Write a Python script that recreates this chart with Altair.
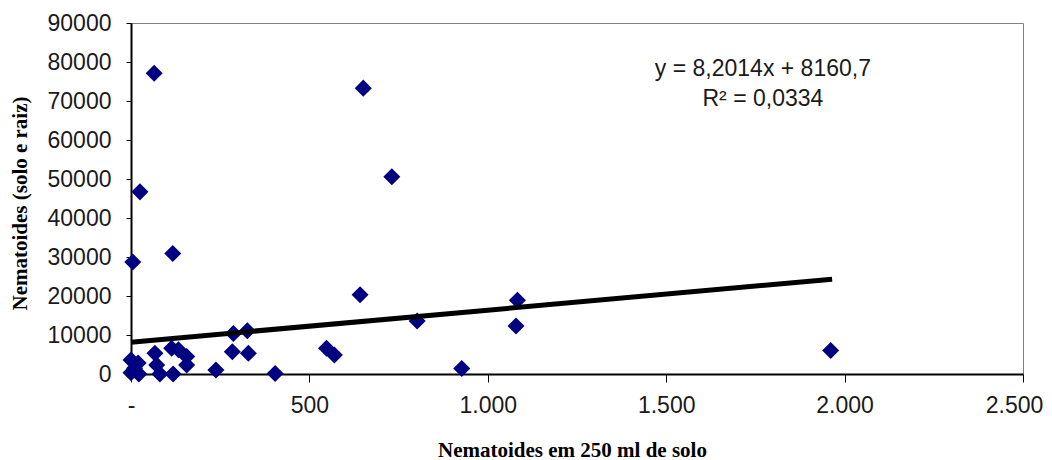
import altair as alt
import pandas as pd

# Scatter data
x_vals = [65, 651, 731, 25, 5, 117, 642, 1083, 802, 1079, 287, 326, 284, 329,
          548, 570, 1961, 927, 404, 238, 67, 72, 81, 114, 133, 118, 156, 156,
          0, 0, 20, 22, 10]
y_vals = [77100, 73300, 50600, 46700, 28700, 30900, 20300, 18900, 13600, 12300,
          10400, 11100, 5700, 5300, 6600, 4900, 6000, 1400, 100, 1000, 5300, 2300,
          0, 6600, 6200, 0, 4500, 2300, 3600, 300, 2800, 0, 1500]

# Trend line endpoints
trend_x = [0, 1965]
trend_y = [8160.7, 24300]

# Annotation
eq_text = ["y = 8,2014x  +  8160,7", "R² = 0,0334"]
eq_x = [1771, 1771]
eq_y = [78200, 70500]

x_ticks = [0, 500, 1000, 1500, 2000, 2500]
y_ticks = [0, 10000, 20000, 30000, 40000, 50000, 60000, 70000, 80000, 90000]

pts = pd.DataFrame({"x": x_vals, "y": y_vals})
trend = pd.DataFrame({"x": trend_x, "y": trend_y})
ann = pd.DataFrame({"x": eq_x, "y": eq_y, "t": eq_text})

xscale = alt.Scale(domain=[0, 2500], nice=False, zero=False)
yscale = alt.Scale(domain=[0, 90000], nice=False, zero=False)

xaxis = alt.Axis(
    values=x_ticks,
    labelExpr="datum.value == 0 ? '-' : replace(format(datum.value, ','), ',', '.')",
    labelOffset={"condition": {"test": "datum.value == 2500", "value": -9}, "value": 0},
    title="Nematoides em 250 ml de solo",
    titleFont="Liberation Serif", titleFontSize=21, titleFontWeight="bold",
    titleColor="#000", titleX=441, titleY=76, titleBaseline="middle",
    titleAnchor="middle", titleAlign="center",
    labelFont="Liberation Sans", labelFontSize=23, labelColor="#1a1a1a",
    labelPadding=12, tickSize=8, tickColor="#000", domainColor="#000",
    domainWidth=2, grid=False, labelFlush=False, labelOverlap=False,
)
yaxis = alt.Axis(
    values=y_ticks, format="d",
    title="Nematoides (solo e raiz)",
    titleFont="Liberation Serif", titleFontSize=21, titleFontWeight="bold",
    titleColor="#000", titleX=-111, titleY=180, titleAngle=270,
    titleBaseline="middle", titleAlign="center",
    labelFont="Liberation Sans", labelFontSize=23, labelColor="#1a1a1a",
    labelPadding=15, tickSize=5, tickColor="#000", domainColor="#000",
    domainWidth=2, grid=False, labelOverlap=False, labelFlush=False,
)

X = alt.X("x:Q", scale=xscale, axis=xaxis)
Y = alt.Y("y:Q", scale=yscale, axis=yaxis)

points = alt.Chart(pts).mark_point(
    shape="diamond", filled=True, color="#000080", size=290, opacity=1
).encode(x=X, y=Y)

line = alt.Chart(trend).mark_line(color="#000", strokeWidth=5).encode(x=X, y=Y)

text = alt.Chart(ann).mark_text(
    font="Liberation Sans", fontSize=23, color="#1a1a1a", align="center",
    baseline="middle"
).encode(x=X, y=Y, text="t:N")

chart = alt.layer(points, line, text).properties(
    width=892, height=351,
    autosize=alt.AutoSizeParams(type="none"),
    padding={"left": 123, "top": 15, "right": 21, "bottom": 86},
    background="white",
).configure_view(stroke="#808080", strokeWidth=1)

chart.save("out.html", embed_options={"renderer": "svg", "actions": False})
